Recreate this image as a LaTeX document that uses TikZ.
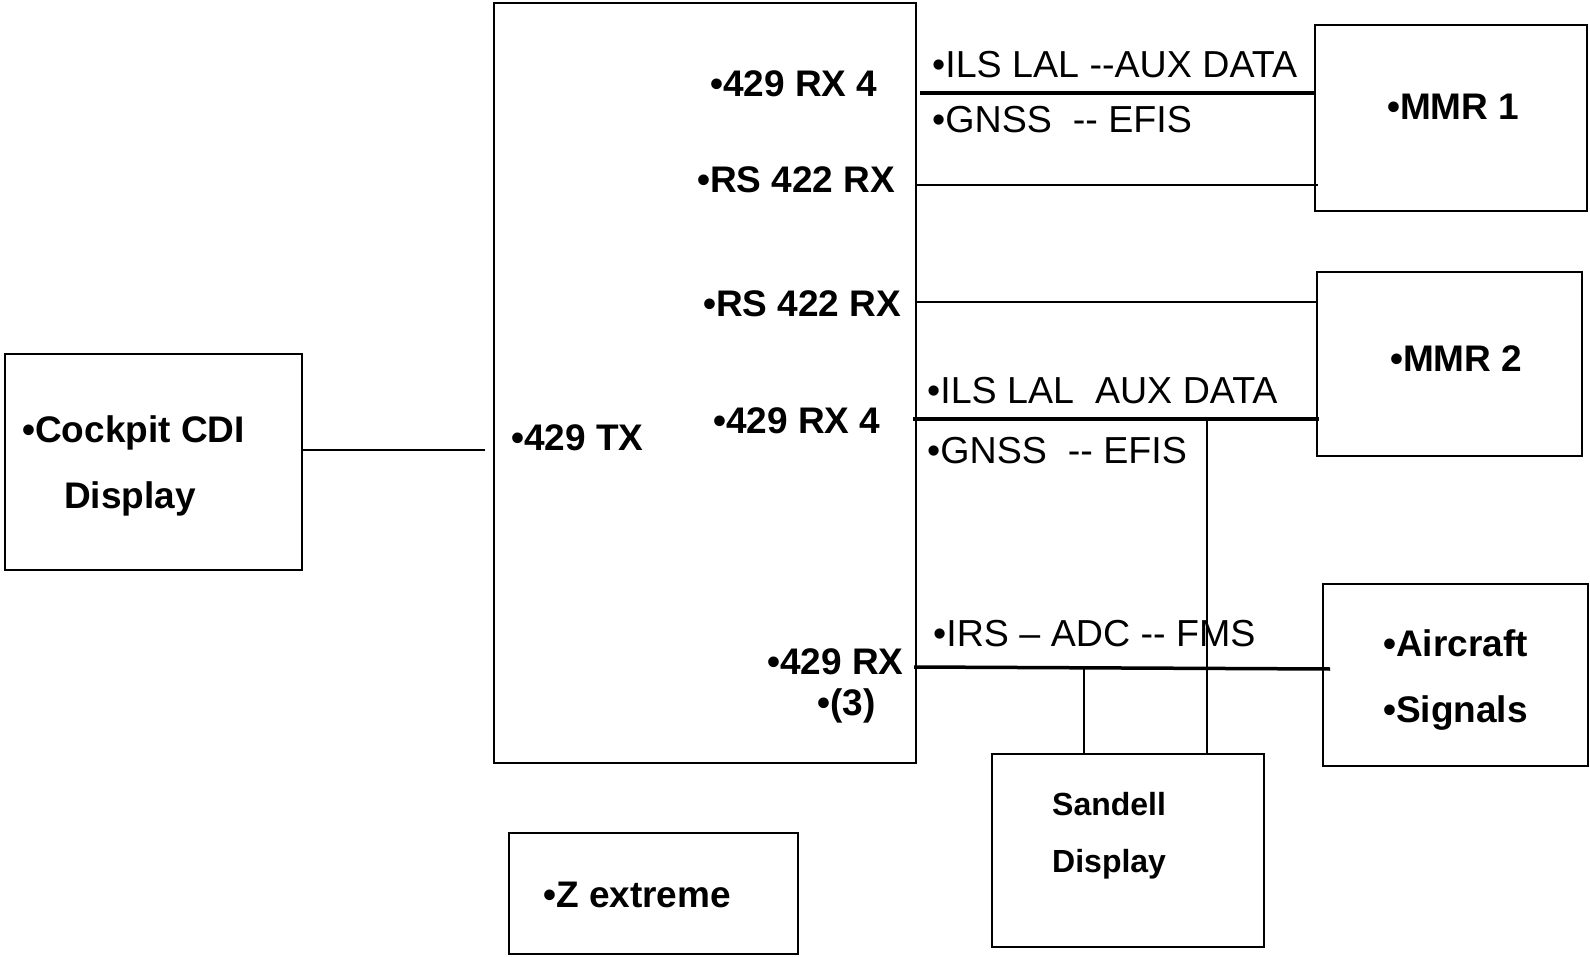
\documentclass[tikz,border=0pt]{standalone}
\usepackage{fontspec}
\newfontfamily\arial{Liberation Sans}
\begin{document}
\begin{tikzpicture}[x=1pt,y=-1pt,
  box/.style={draw, line width=2.5pt, inner sep=0pt},
  bl/.style={inner sep=0pt, anchor=base west, font=\fontsize{37}{44}\selectfont\arial\bfseries},
  sl/.style={inner sep=0pt, anchor=base west, font=\fontsize{32}{38}\selectfont\arial\bfseries},
  rl/.style={inner sep=0pt, anchor=base west, font=\fontsize{37.6}{45}\selectfont\arial},
  thinline/.style={line width=2pt},
  thickline/.style={line width=3.5pt}]
\useasboundingbox (0,0) rectangle (1590,957);
% boxes
\node[box, minimum width=422pt, minimum height=760pt] (main) at (705,383) {};
\node[box, minimum width=297pt, minimum height=216pt] (cockpit) at (153.5,462) {};
\node[box, minimum width=272pt, minimum height=186pt] (mmr1) at (1451,118) {};
\node[box, minimum width=265pt, minimum height=184pt] (mmr2) at (1449.5,364) {};
\node[box, minimum width=265pt, minimum height=182pt] (aircraft) at (1455.5,675) {};
\node[box, minimum width=272pt, minimum height=193pt] (sandell) at (1128,850.5) {};
\node[box, minimum width=289pt, minimum height=121pt] (zext) at (653.5,893.5) {};
% bold labels
\node[bl] (t1) at (710,97) {•429 RX 4};
\node[bl] (t2) at (697,193) {•RS 422 RX};
\node[bl] (t3) at (703,317) {•RS 422 RX};
\node[bl] (t4) at (713,433) {•429 RX 4};
\node[bl] (t5) at (511,450) {•429 TX};
\node[bl] (t6) at (767,674) {•429 RX};
\node[bl] (t7) at (817,715) {•(3)};
\node[bl] (t8) at (543,907) {•Z extreme};
\node[bl] (t9) at (22,442) {•Cockpit CDI};
\node[bl] (t10) at (64,508) {Display};
\node[bl] (t11) at (1387,120) {•MMR 1};
\node[bl] (t12) at (1390,372) {•MMR 2};
\node[bl] (t13) at (1383,656) {•Aircraft};
\node[bl] (t14) at (1383,722) {•Signals};
\node[sl] (t15) at (1052,815) {Sandell};
\node[sl] (t16) at (1052,872) {Display};
% regular labels
\node[rl] (r1) at (932,78) {•ILS LAL --AUX DATA};
\node[rl] (r2) at (932,133) {•GNSS\ \ -- EFIS};
\node[rl] (r3) at (927,403) {•ILS LAL\ \ AUX DATA};
\node[rl] (r4) at (927,463) {•GNSS\ \ -- EFIS};
\node[rl] (r5) at (933,646) {•IRS – ADC -- FMS};
% connector ends
\coordinate (a1) at (920,93);
\coordinate (b1) at (916,185);
\coordinate (b2) at (916,302);
\coordinate (c1) at (913,419);
\coordinate (v1) at (1207,419);
\coordinate (d1) at (914,667);
\coordinate (d2) at (1330,669);
\coordinate (v2) at (1084,667.5);
\coordinate (e1) at (485,450);
% connectors
\draw[thickline] (a1) -- (a1 -| mmr1.west);
\draw[thinline] (b1) -- ([xshift=4pt]b1 -| mmr1.west);
\draw[thinline] (b2) -- (b2 -| mmr2.west);
\draw[thickline] (c1) -- ([xshift=3pt]c1 -| mmr2.west);
\draw[thinline] (v1) -- (v1 |- sandell.north);
\draw[thickline] (d1) -- (d2);
\draw[thinline] (v2) -- ([yshift=-2pt]v2 |- sandell.north);
\draw[thinline] (e1 -| cockpit.east) -- (e1);
\end{tikzpicture}
\end{document}
